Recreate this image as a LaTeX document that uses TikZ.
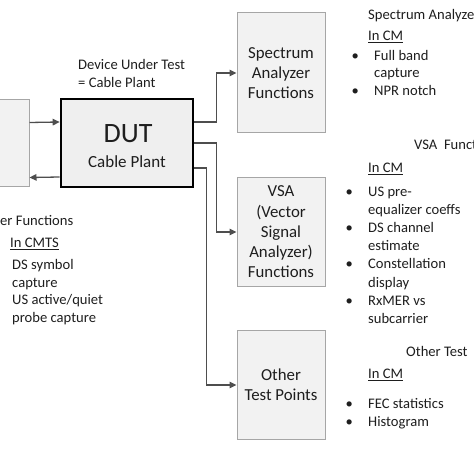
\documentclass[tikz,border=0pt]{standalone}
\usepackage{fontspec}
\setmainfont{Carlito}
\usetikzlibrary{arrows.meta}

\definecolor{boxfill}{HTML}{F2F2F2}
\definecolor{boxline}{HTML}{A6A6A6}
\definecolor{dutfill}{HTML}{EFEFEF}
\definecolor{wiregray}{HTML}{4E4E4E}
\definecolor{ink}{HTML}{1E1E1E}

\newcommand{\bitem}{\makebox[0pt]{\textbullet}\hspace{19bp}}
\newcommand{\bskip}{\hspace*{19bp}}

\tikzset{
  func/.style={shape=rectangle, draw=boxline, fill=boxfill, line width=1bp, inner sep=0pt,
    minimum width=88bp, align=center, text=ink, font=\fontsize{16.8bp}{20.3bp}\selectfont},
  note/.style={anchor=base west, inner sep=0pt, align=left, text=ink,
    font=\fontsize{14.6bp}{18.2bp}\selectfont},
  link/.style={draw=wiregray, line width=1.3bp, -{Triangle[length=7bp,width=6.5bp]}},
}

\begin{document}
\begin{tikzpicture}[x=1bp,y=-1bp]
    \useasboundingbox (0,0) rectangle (474,474);

    % boxes
    \node[func, minimum width=89bp, minimum height=87bp] (cmts) at (-15.5,143.5) {};
    \node[shape=rectangle, draw=black, fill=dutfill, line width=2.6bp, minimum width=132bp, minimum height=88bp] (dut) at (127,143) {};
    \node[anchor=base, inner sep=0pt, text=ink, font=\fontsize{28bp}{30bp}\selectfont] (dutname) at (128,143) {DUT};
    \node[anchor=base, inner sep=0pt, text=ink, font=\fontsize{17bp}{20bp}\selectfont] (dutsub) at (127,168) {Cable Plant};
    \node[func, minimum height=120bp] (sa) at (281,73) {Spectrum\\Analyzer\\Functions};
    \node[func, minimum height=109bp] (vsa) at (281,232) {VSA\\(Vector\\Signal\\Analyzer)\\Functions};
    \node[func, minimum height=109bp] (other) at (281,385) {Other\\Test Points};

    % notes (anchored on the last line's baseline)
    \node[note] (dutcap) at (78,87.5) {Device Under Test\\= Cable Plant};

    \node[note] (satitle) at (368,19.5) {Spectrum Analyze};
    \node[note] (sacm) at (368,40.5) {\underline{In CM}};
    \node[note, font=\fontsize{14.6bp}{17.6bp}\selectfont] (salist) at (355,95.5) {\bitem Full band\\\bskip capture\\\bitem NPR notch};

    \node[note] (vsatitle) at (414,149.5) {VSA\ \ Funct};
    \node[note] (vsacm) at (368,172.5) {\underline{In CM}};
    \node[note] (vsalist) at (349,323.5) {\bitem US pre-\\\bskip equalizer coeffs\\\bitem DS channel\\\bskip estimate\\\bitem Constellation\\\bskip display\\\bitem RxMER vs\\\bskip subcarrier};

    \node[note] (othertitle) at (406,356.5) {Other Test};
    \node[note] (othercm) at (368,378.5) {\underline{In CM}};
    \node[note] (otherlist) at (349,426.5) {\bitem FEC statistics\\\bitem Histogram};

    \node[note] (cmtstitle) at (0,225.5) {er Functions};
    \node[note] (cmtscm) at (10,247.5) {\underline{In CMTS}};
    \node[note, font=\fontsize{14.6bp}{17.7bp}\selectfont] (cmtslist) at (12,322.5) {DS symbol\\capture\\US active/quiet\\probe capture};

    % connectors
    \draw[link] ([yshift=21bp]cmts.east) -- ([yshift=21bp]dut.west);
    \draw[link] ([yshift=-34bp]dut.west) -- ([yshift=-34bp]cmts.east);
    \draw[link] ([yshift=21bp]dut.east) -- ++(22,0) |- (sa.west);
    \draw[link] (dut.east) -- ++(22,0) |- (vsa.west);
    \draw[link] ([yshift=-25bp]dut.east) -- ++(12,0) |- (other.west);
\end{tikzpicture}
\end{document}
